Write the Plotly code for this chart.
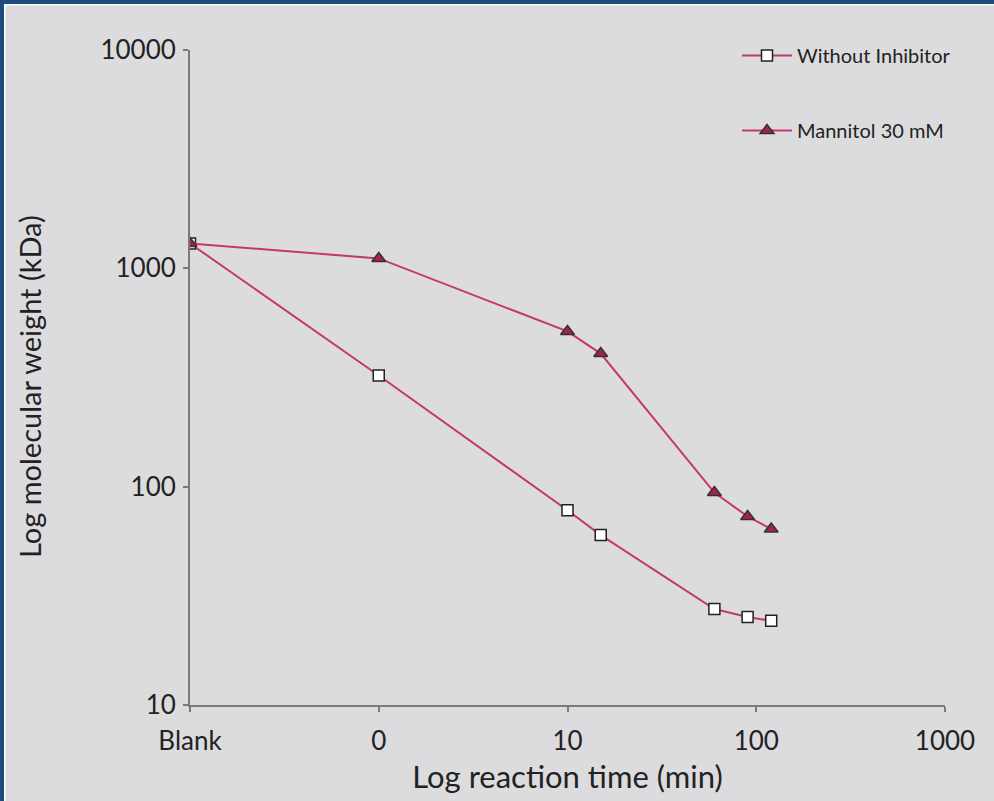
import plotly.graph_objects as go

# Data (x: reaction time in min; "Blank" plotted at 0.1, "0" at 1 on the log axis)
x_vals = [0.1, 1, 10, 15, 60, 90, 120]
without_inhibitor = [1300, 323, 78, 60, 27.5, 25.3, 24.3]
mannitol_30mM = [1300, 1110, 514, 407, 94, 73, 64]

x_tickvals = [0.1, 1, 10, 100, 1000]
x_ticktext = ["Blank", "0", "10", "100", "1000"]
y_tickvals = [10, 100, 1000, 10000]
y_ticktext = ["10", "100", "1000", "10000"]

LINE = "#c4386a"
FONT = "Lato"
W, H = 994, 801
L, R, T, B = 190, 49, 50, 96

fig = go.Figure()
fig.add_trace(go.Scatter(
    x=x_vals, y=without_inhibitor, mode="lines+markers", name="Without Inhibitor",
    legendgroup="a",
    line=dict(color=LINE, width=2),
    marker=dict(symbol="square", size=11, color="white", line=dict(color="#222222", width=1.5)),
))
fig.add_trace(go.Scatter(
    x=x_vals, y=mannitol_30mM, mode="lines+markers", name="Mannitol 30 mM",
    legendgroup="b",
    line=dict(color=LINE, width=2),
    marker=dict(symbol="triangle-up", size=12, color="#a8204e", line=dict(color="#333333", width=1.5)),
))

pw = W - L - R
ph = H - T - B
def px_x(p):
    return (p - L) / pw
def px_y(p):
    return (H - B - p) / ph

shapes = [
    dict(type="rect", xref="paper", yref="paper", x0=px_x(-2), x1=px_x(4), y0=px_y(H + 2), y1=px_y(-2),
         fillcolor="#1f4a80", line=dict(width=0), layer="below"),
    dict(type="rect", xref="paper", yref="paper", x0=px_x(-2), x1=px_x(W + 2), y0=px_y(4), y1=px_y(-2),
         fillcolor="#1f4a80", line=dict(width=0), layer="below"),
    dict(type="rect", xref="paper", yref="paper", x0=px_x(4), x1=px_x(5.5), y0=px_y(H + 2), y1=px_y(4),
         fillcolor="#ffffff", line=dict(width=0), layer="below"),
    dict(type="rect", xref="paper", yref="paper", x0=px_x(4), x1=px_x(W + 2), y0=px_y(5.5), y1=px_y(4),
         fillcolor="#ffffff", line=dict(width=0), layer="below"),
]

fig.update_layout(
    width=W, height=H,
    margin=dict(l=L, r=R, t=T, b=B),
    paper_bgcolor="#dcdcde", plot_bgcolor="#dcdcde",
    font=dict(family=FONT, color="#222222", size=22),
    shapes=shapes,
    showlegend=True,
    legend=dict(x=px_x(737), y=px_y(36), xanchor="left", yanchor="top",
                bgcolor="rgba(0,0,0,0)", font=dict(size=20, family=FONT),
                tracegroupgap=46, itemwidth=50),
    xaxis=dict(type="log", range=[-1, 3], tickvals=x_tickvals, ticktext=x_ticktext,
               showgrid=False, zeroline=False, showline=True, linecolor="#7a7a7a", linewidth=2,
               ticks="outside", ticklen=5, tickcolor="#7a7a7a", tickwidth=2, ticklabelstandoff=7,
               tickfont=dict(size=26), title=dict(text="Log reaction time (min)", font=dict(size=31), standoff=11)),
    yaxis=dict(type="log", range=[1, 4], tickvals=y_tickvals, ticktext=y_ticktext,
               showgrid=False, zeroline=False, showline=True, linecolor="#7a7a7a", linewidth=2,
               ticks="outside", ticklen=5, tickcolor="#7a7a7a", tickwidth=2, ticklabelstandoff=2,
               tickfont=dict(size=26)),
    annotations=[dict(text="Log molecular weight (kDa)", xref="paper", yref="paper",
                      x=px_x(29), y=px_y(387), textangle=-90, showarrow=False,
                      font=dict(size=29, family=FONT, color="#222222"),
                      xanchor="center", yanchor="middle")],
)

fig.write_html("out.html", config={"displayModeBar": False},
               post_script="document.body.style.margin='0px';document.body.style.overflow='hidden';")
